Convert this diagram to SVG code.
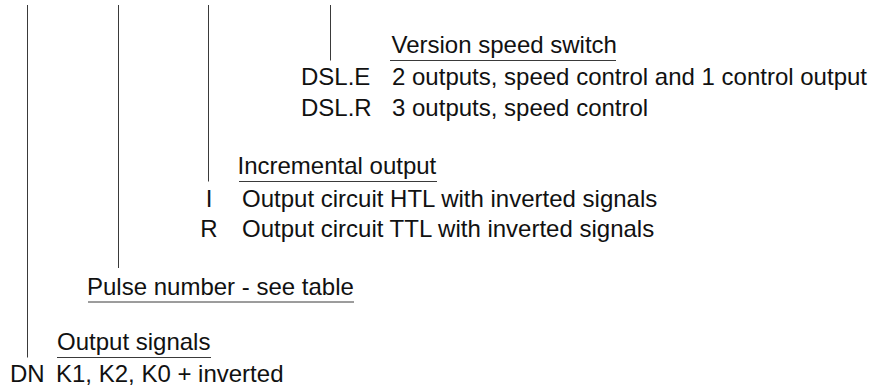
<svg xmlns="http://www.w3.org/2000/svg" width="869" height="389" viewBox="0 0 869 389">
<style>
text { font-family: "Liberation Sans", Arial, sans-serif; font-size: 24px; fill: #111; }
.ln { stroke: #3a3a3a; stroke-width: 1; fill: none; }
.mid { text-anchor: middle; }
</style>
<rect width="869" height="389" fill="#fff"/>
<g id="connectors">
<line class="ln" x1="27.5" y1="5" x2="27.5" y2="357.5"/>
<line class="ln" x1="118.5" y1="5" x2="118.5" y2="268"/>
<line class="ln" x1="208.5" y1="5" x2="208.5" y2="181.5"/>
<line class="ln" x1="330.5" y1="5" x2="330.5" y2="60.5"/>
</g>
<g id="speed-switch">
<text x="391.5" y="52.5">Version speed switch</text>
<line class="ln" x1="390" y1="60.5" x2="616" y2="60.5"/>
<text x="301" y="85">DSL.E</text>
<text x="392" y="85">2 outputs, speed control and 1 control output</text>
<text x="301" y="115.5">DSL.R</text>
<text x="392" y="115.5">3 outputs, speed control</text>
</g>
<g id="incremental-output">
<text x="237.5" y="173.5">Incremental output</text>
<line class="ln" x1="239" y1="181.5" x2="437" y2="181.5"/>
<text class="mid" x="209" y="206.5">I</text>
<text x="242" y="206.5">Output circuit HTL with inverted signals</text>
<text class="mid" x="209" y="237">R</text>
<text x="242" y="237">Output circuit TTL with inverted signals</text>
</g>
<g id="pulse-number">
<text x="87" y="294.5">Pulse number - see table</text>
<line class="ln" x1="88" y1="302" x2="354" y2="302"/>
</g>
<g id="output-signals">
<text x="57" y="350">Output signals</text>
<line class="ln" x1="57" y1="357.5" x2="211" y2="357.5"/>
<text x="10" y="382">DN</text>
<text x="56" y="382">K1, K2, K0 + inverted</text>
</g>
</svg>
